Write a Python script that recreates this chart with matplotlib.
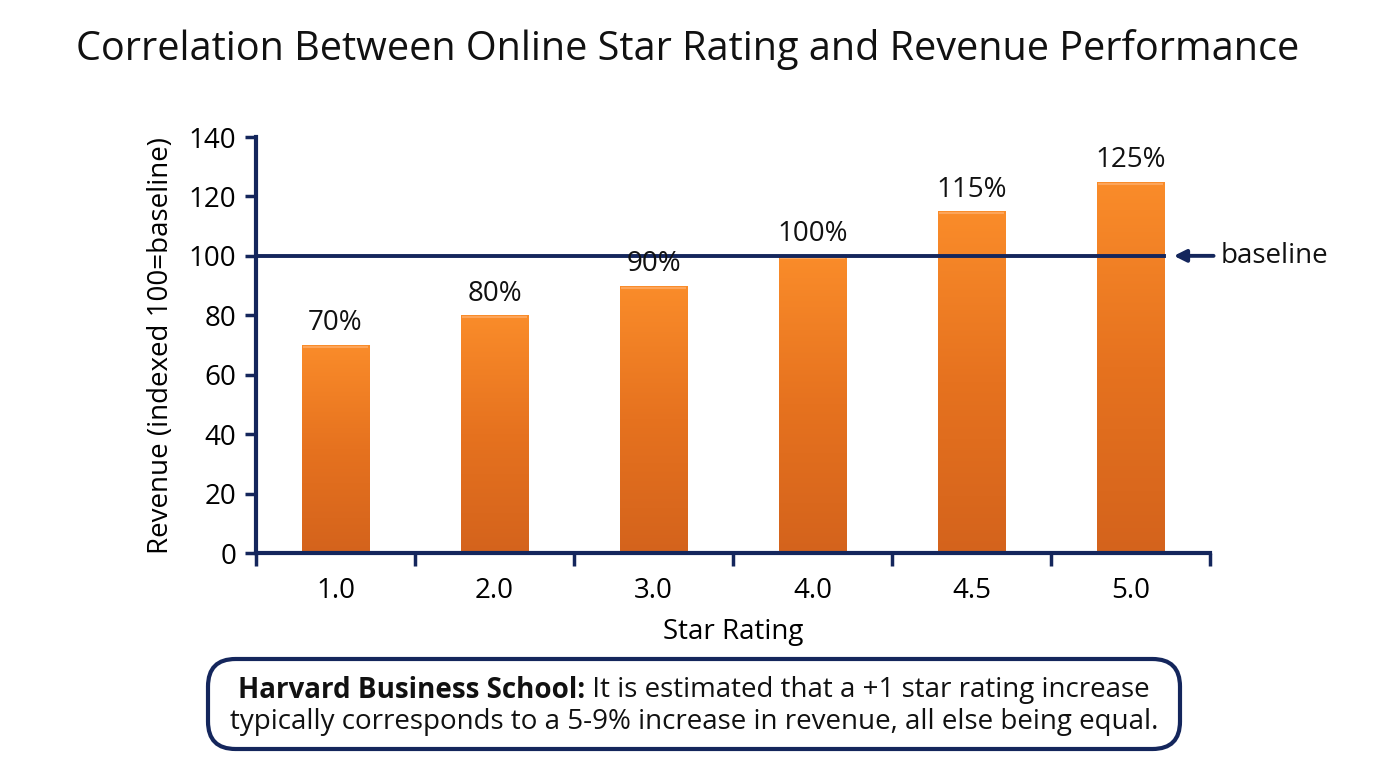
import numpy as np
import matplotlib
matplotlib.use("Agg")
import matplotlib.pyplot as plt
from matplotlib.patches import FancyBboxPatch
from matplotlib.colors import LinearSegmentedColormap

plt.rcParams['font.family'] = ['Open Sans', 'DejaVu Sans']

categories = ["1.0", "2.0", "3.0", "4.0", "4.5", "5.0"]
revenue = [70, 80, 90, 100, 115, 125]
labels = ["70%", "80%", "90%", "100%", "115%", "125%"]
baseline = 100
yticks = [0, 20, 40, 60, 80, 100, 120, 140]

navy = "#14265C"
W, H = 1376, 768
FS = 20
fig = plt.figure(figsize=(W/100, H/100), dpi=100)
ax = fig.add_axes([256/W, 1-553/H, (1210-256)/W, (553-137)/H])

x = np.arange(len(categories))
bars = ax.bar(x, revenue, width=0.425, color="#F2821F", edgecolor="#B85A18", linewidth=0.6, zorder=2)
cmap = LinearSegmentedColormap.from_list("og", ["#D4631C", "#E6721F", "#FA8C2A"])
grad = np.linspace(0, 1, 256).reshape(-1, 1)
for b in bars:
    x0, w, h = b.get_x(), b.get_width(), b.get_height()
    im = ax.imshow(grad, extent=[x0, x0+w, 0, h], origin="lower", aspect="auto",
                   cmap=cmap, zorder=2.1)
    im.set_clip_path(b)
    ax.plot([x0+0.01, x0+w-0.01], [h-0.7, h-0.7], color="#FDA55A", lw=1.5, zorder=2.2, solid_capstyle="butt")

for xi, v, lab in zip(x, revenue, labels):
    ax.text(xi, v + 2.6, lab, ha="center", va="bottom", fontsize=FS, color="#111111", zorder=4)

ax.set_xlim(-0.5, len(categories) - 0.5)
ax.set_ylim(0, 140)
ax.set_yticks(yticks)
ax.set_yticklabels([str(t) for t in yticks], fontsize=FS)
ax.set_xticks(x)
ax.set_xticklabels(categories, fontsize=FS)
ax.tick_params(axis="x", length=0, pad=17)
ax.set_xticks(np.arange(-0.5, len(categories)), minor=True)
ax.tick_params(axis="x", which="minor", length=9, width=2.5, color=navy, direction="out")
ax.tick_params(axis="y", length=8, width=2.5, color=navy, pad=6)
for s in ["top", "right"]:
    ax.spines[s].set_visible(False)
for s in ["left", "bottom"]:
    ax.spines[s].set_color(navy)
    ax.spines[s].set_linewidth(3)
ax.set_xlabel("Star Rating", fontsize=FS, labelpad=10)
ax.set_ylabel("Revenue (indexed 100=baseline)", fontsize=FS, labelpad=10)

last = bars[-1]
right = last.get_x() + last.get_width()
ax.plot([-0.5, right], [baseline, baseline], color=navy, lw=2.8, zorder=3, clip_on=False)
ax.annotate("", xy=(right + 0.06, baseline), xytext=(right + 0.31, baseline),
            arrowprops=dict(arrowstyle="-|>", color=navy, lw=2.8, mutation_scale=18,
                            shrinkA=0, shrinkB=0),
            annotation_clip=False)
ax.text(right + 0.355, baseline, "baseline", ha="left", va="center",
        fontsize=FS, color="#111111")

fig.text(0.5, 1-50/H, "Correlation Between Online Star Rating and Revenue Performance",
         ha="center", va="center", fontsize=28.5, color="#111111")

box = FancyBboxPatch((208/W, 1-749/H), (1180-208)/W, (749-659)/H,
                     boxstyle="round,pad=0,rounding_size=0.02", transform=fig.transFigure,
                     facecolor="white", edgecolor=navy, linewidth=3, mutation_aspect=W/H)
fig.add_artist(box)

# first line: bold lead + regular rest, centred together
cx = 694
bold_t = fig.text(0, 1-690/H, "Harvard Business School:", ha="left", va="center",
                  fontsize=FS, fontweight="bold", color="#111111")
rest_t = fig.text(0, 1-690/H, " It is estimated that a +1 star rating increase", ha="left",
                  va="center", fontsize=FS, color="#111111")
fig.canvas.draw()
r = fig.canvas.get_renderer()
wb = bold_t.get_window_extent(r).width
wr = rest_t.get_window_extent(r).width
x_start = cx - (wb + wr) / 2
bold_t.set_x(x_start / W)
rest_t.set_x((x_start + wb) / W)
fig.text(cx/W, 1-722/H, "typically corresponds to a 5-9% increase in revenue, all else being equal.",
         ha="center", va="center", fontsize=FS, color="#111111")

fig.savefig("out.png", dpi=100, facecolor="white")
